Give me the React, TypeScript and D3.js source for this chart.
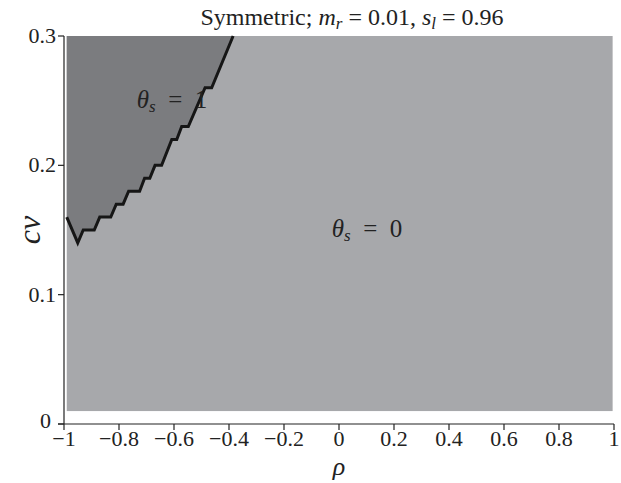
import React from "react";
import * as d3 from "d3";

const xTicks = [-1, -0.8, -0.6, -0.4, -0.2, 0, 0.2, 0.4, 0.6, 0.8, 1];
const xTickLabels = ["−1", "−0.8", "−0.6", "−0.4", "−0.2", "0", "0.2", "0.4", "0.6", "0.8", "1"];
const yTicks = [0, 0.1, 0.2, 0.3];
const yTickLabels = ["0", "0.1", "0.2", "0.3"];

// region extent
const regionX = [-0.99, 0.995];
const regionY = [0.01, 0.3];

// boundary between theta_s = 1 and theta_s = 0
const boundaryRho = [-0.99, -0.95, -0.93, -0.89, -0.87, -0.83, -0.81, -0.785, -0.765, -0.725, -0.707, -0.688, -0.669, -0.645, -0.608, -0.59, -0.572, -0.548, -0.487, -0.463, -0.385];
const boundaryCv = [0.16, 0.14, 0.15, 0.15, 0.16, 0.16, 0.17, 0.17, 0.18, 0.18, 0.19, 0.19, 0.2, 0.2, 0.22, 0.22, 0.23, 0.23, 0.26, 0.26, 0.3];

const W = 621;
const H = 483;
const FONT = "'Liberation Serif', 'Times New Roman', 'DejaVu Serif', serif";

export default function App() {
  const x = d3.scaleLinear().domain([-1, 1]).range([64, 614]);
  const y = d3.scaleLinear().domain([0, 0.3]).range([424, 36]);

  const pts: [number, number][] = boundaryRho.map((r, i) => [r, boundaryCv[i]]);
  const line = d3.line<[number, number]>().x(d => x(d[0])).y(d => y(d[1]));
  const darkPts: [number, number][] = [[regionX[0], regionY[1]], ...pts];
  const darkPath = line(darkPts) + "Z";
  const ts = { fontFamily: FONT, whiteSpace: "pre" as const };

  return (
    <svg width={W} height={H} style={{ position: "absolute", left: 0, top: 0, background: "#fff" }}>
      <rect x={x(regionX[0])} y={y(regionY[1])} width={x(regionX[1]) - x(regionX[0])} height={y(regionY[0]) - y(regionY[1])} fill="#a7a8ab" />
      <path d={darkPath} fill="#7b7c7f" />
      <path d={line(pts) || ""} fill="none" stroke="#161616" strokeWidth={3} strokeLinejoin="miter" />

      {/* axes */}
      <line x1={x(-1)} x2={x(-1)} y1={y(0)} y2={y(0.3)} stroke="#222" strokeWidth={1.2} />
      <line x1={x(-1) - 6} x2={x(1)} y1={y(0)} y2={y(0)} stroke="#222" strokeWidth={1.2} />
      {yTicks.map((t, i) => (
        <g key={"y" + i}>
          <line x1={x(-1) - 6} x2={x(-1)} y1={y(t)} y2={y(t)} stroke="#222" strokeWidth={1.2} />
          <text style={ts} x={x(-1) - (t === 0 ? 13 : 8)} y={y(t) + (t === 0 ? 4 : 7)} textAnchor="end" fontSize={22} fill="#222">{yTickLabels[i]}</text>
        </g>
      ))}
      {xTicks.map((t, i) => (
        <g key={"x" + i}>
          <line x1={x(t)} x2={x(t)} y1={y(0)} y2={y(0) + 6} stroke="#222" strokeWidth={1.2} />
          <text style={ts} x={x(t)} y={y(0) + 22} textAnchor="middle" fontSize={22} fill="#222">{xTickLabels[i]}</text>
        </g>
      ))}

      {/* axis labels */}
      <text style={ts} x={x(0)} y={475} textAnchor="middle" fontSize={26} fontStyle="italic" fill="#222">ρ</text>
      <text style={ts} transform={`translate(40, ${y(0.15)}) rotate(-90)`} textAnchor="middle" fontSize={32} fontStyle="italic" fill="#222">cv</text>

      {/* title */}
      <text style={ts} x={352} y={25} textAnchor="middle" fontSize={24} fill="#222">
        Symmetric; <tspan fontStyle="italic">m</tspan><tspan fontStyle="italic" fontSize={17} dy={4}>r</tspan><tspan dy={-4}>{" = 0.01, "}</tspan>
        <tspan fontStyle="italic">s</tspan><tspan fontStyle="italic" fontSize={17} dy={4}>l</tspan><tspan dy={-4}>{" = 0.96"}</tspan>
      </text>

      {/* region labels */}
      <text style={ts} x={172} y={108} textAnchor="middle" fontSize={25} fill="#222">
        <tspan fontStyle="italic">θ</tspan><tspan fontStyle="italic" fontSize={17} dy={4}>s</tspan><tspan dy={-4}>{"  =  1"}</tspan>
      </text>
      <text style={ts} x={367} y={237} textAnchor="middle" fontSize={25} fill="#222">
        <tspan fontStyle="italic">θ</tspan><tspan fontStyle="italic" fontSize={17} dy={4}>s</tspan><tspan dy={-4}>{"  =  0"}</tspan>
      </text>
    </svg>
  );
}
